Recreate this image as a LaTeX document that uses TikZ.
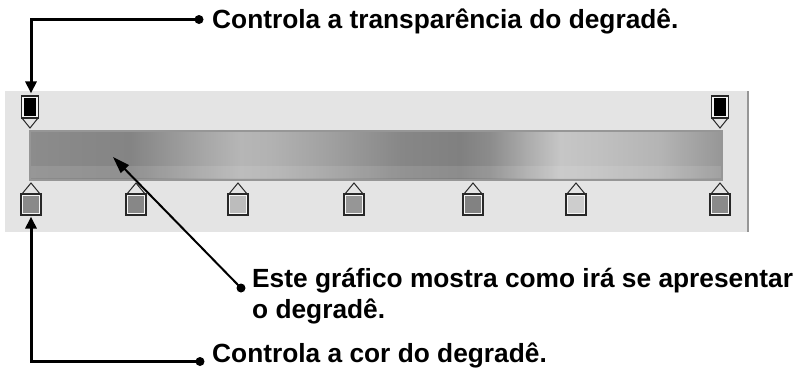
\documentclass[tikz,border=0pt]{standalone}
\usepackage{fontspec}
\setmainfont{Liberation Sans}
\usetikzlibrary{arrows.meta}
\definecolor{panelc}{RGB}{228,228,228}
\definecolor{edgec}{RGB}{150,150,150}
\definecolor{stopedge}{RGB}{40,40,40}
\tikzset{
  lbl/.style={font=\fontsize{26.3}{31}\selectfont\bfseries, anchor=base west, inner sep=0pt},
  dotn/.style={circle, fill=black, minimum size=9pt, inner sep=0pt},
  conn/.style={line width=3pt, -{Triangle[length=12pt,width=11pt]}},
  diag/.style={line width=2pt, -{Triangle[length=17pt,width=11pt]}},
  bstop/.style={rectangle, draw=stopedge, line width=1.2pt, fill=white!96!black, minimum width=20pt, minimum height=21pt, inner sep=0pt},
  tstop/.style={rectangle, draw=stopedge, line width=1.2pt, fill=white!96!black, minimum width=17pt, minimum height=22pt, inner sep=0pt},
  roof/.style={draw=stopedge, line width=1pt, line join=miter}
}
\begin{document}
\begin{tikzpicture}[x=1pt,y=-1pt]
\useasboundingbox (0,0) rectangle (795,368);
% panel
\fill[panelc] (5,91) rectangle (748,232);
\draw[edgec, line width=1.5pt] (748,91) -- (748,232);
% gradient bar
\foreach \xa/\ga/\xb/\gb in {30/140/75/136, 75/136/130/132, 130/132/200/165, 200/165/240/182, 240/182/270/178, 270/178/330/160, 330/160/400/135, 400/135/460/128, 460/128/490/140, 490/140/525/170, 525/170/560/198, 560/198/600/192, 600/192/660/180, 660/180/722/150} {
  \definecolor{ca}{RGB}{\ga,\ga,\ga}
  \definecolor{cb}{RGB}{\gb,\gb,\gb}
  \shade[left color=ca, right color=cb] (\xa,131) rectangle (\xb+0.6,180);
}
\fill[white, opacity=0.10] (30,166) rectangle (722,178);
\draw[edgec, line width=1.5pt] (30,131) rectangle (722,180);
\coordinate (gradpt) at (113,157);
% top stops
\foreach \n/\x in {1/30, 2/720} {
  \node[tstop] (t\n) at (\x,107) {};
  \fill[black] ([shift={(3,3)}]t\n.north west) rectangle ([shift={(-3,-3)}]t\n.south east);
  \draw[roof] ([shift={(1.5,0)}]t\n.south west) -- (\x,128) -- ([shift={(-1.5,0)}]t\n.south east);
}
% bottom stops
\foreach \n/\x/\g in {1/31/138, 2/136/135, 3/238/188, 4/354/150, 5/473/130, 6/576/205, 7/720/138} {
  \definecolor{sc}{RGB}{\g,\g,\g}
  \node[bstop] (b\n) at (\x,204.5) {};
  \fill[sc] ([shift={(2.6,2.6)}]b\n.north west) rectangle ([shift={(-2.6,-2.6)}]b\n.south east);
  \draw[roof] ([shift={(2,0)}]b\n.north west) -- (\x,183) -- ([shift={(-2,0)}]b\n.north east);
}
% labels
\node[lbl] (txt1) at (212,28) {Controla a transparência do degradê.};
\node[lbl] (txt2a) at (252,287) {Este gráfico mostra como irá se apresentar};
\node[lbl] (txt2b) at (252,318) {o degradê.};
\node[lbl] (txt3) at (212,362.5) {Controla a cor do degradê.};
% dots
\node[dotn] (d1) at (199,19.5) {};
\node[dotn] (d2) at (241,288) {};
\node[dotn] (d3) at (200,361.5) {};
% connectors
\draw[conn] (d1.center) -| ([shift={(1,-2)}]t1.north);
\draw[conn] (d3.center) -| ([shift={(0,1)}]b1.south);
\draw[diag] (d2.center) -- (gradpt);
\end{tikzpicture}
\end{document}
